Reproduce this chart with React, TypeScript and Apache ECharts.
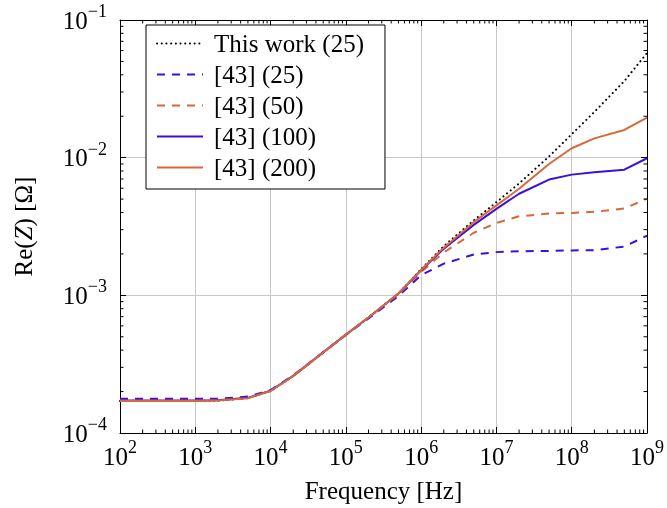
import React, { useEffect, useRef } from "react";
import * as echarts from "echarts";

const freq = [1e2, 2e2, 5e2, 1e3, 2e3, 5e3, 1e4, 2e4, 5e4, 1e5, 2e5, 5e5, 1e6, 2e6, 5e6, 1e7, 2e7, 5e7, 1e8, 2e8, 5e8, 1e9];

const thisWork25 = [1.71e-4, 1.71e-4, 1.71e-4, 1.71e-4, 1.72e-4, 1.79e-4, 2.02e-4, 2.6e-4, 3.85e-4, 5.18e-4, 6.9e-4, 1.03e-3, 1.55e-3, 2.28e-3, 3.5e-3, 4.75e-3, 6.5e-3, 1.02e-2, 1.48e-2, 2.15e-2, 3.6e-2, 5.75e-2];
const ref25 = [1.77e-4, 1.77e-4, 1.77e-4, 1.77e-4, 1.77e-4, 1.84e-4, 2.05e-4, 2.62e-4, 3.85e-4, 5.15e-4, 6.8e-4, 9.9e-4, 1.4e-3, 1.7e-3, 1.98e-3, 2.06e-3, 2.09e-3, 2.1e-3, 2.12e-3, 2.13e-3, 2.26e-3, 2.71e-3];
const ref50 = [1.73e-4, 1.73e-4, 1.73e-4, 1.73e-4, 1.74e-4, 1.8e-4, 2.03e-4, 2.6e-4, 3.85e-4, 5.17e-4, 6.9e-4, 1.02e-3, 1.48e-3, 2.05e-3, 2.85e-3, 3.35e-3, 3.75e-3, 3.93e-3, 3.97e-3, 4.04e-3, 4.27e-3, 5.04e-3];
const ref100 = [1.72e-4, 1.72e-4, 1.72e-4, 1.72e-4, 1.73e-4, 1.8e-4, 2.03e-4, 2.6e-4, 3.85e-4, 5.18e-4, 6.9e-4, 1.03e-3, 1.52e-3, 2.18e-3, 3.25e-3, 4.25e-3, 5.47e-3, 6.93e-3, 7.53e-3, 7.84e-3, 8.18e-3, 9.9e-3];
const ref200 = [1.71e-4, 1.71e-4, 1.71e-4, 1.71e-4, 1.72e-4, 1.79e-4, 2.02e-4, 2.6e-4, 3.85e-4, 5.18e-4, 6.9e-4, 1.03e-3, 1.53e-3, 2.22e-3, 3.4e-3, 4.5e-3, 5.95e-3, 9.0e-3, 1.17e-2, 1.38e-2, 1.59e-2, 1.95e-2];

const seriesNames = ["This work (25)", "[43] (25)", "[43] (50)", "[43] (100)", "[43] (200)"];

const xDecades = [2, 3, 4, 5, 6, 7, 8];
const yDecades = [-4, -3, -2];
const minorMultipliers = [2, 3, 4, 5, 6, 7, 8, 9];

const X_MIN = 1e2;
const X_MAX = 1e9;
const Y_MIN = 1e-4;
const Y_MAX = 1e-1;

const FONT = "'Liberation Serif', 'Times New Roman', serif";
const BLUE = "#3d0fd8";
const ORANGE = "#d6693a";
const DASH = [8, 7];
const DOT = [0.1, 4.6];

function supLabel(v: number) {
  const e = Math.round(Math.log10(v));
  const s = e < 0 ? "\u2212" + Math.abs(e) : String(e);
  return `{b|10}{s|${s}}`;
}

const labelRich = {
  b: { fontSize: 25, fontFamily: FONT, color: "#000", lineHeight: 36 },
  s: { fontSize: 18, fontFamily: FONT, color: "#000", lineHeight: 16, verticalAlign: "top" },
};

export default function App() {
  const ref = useRef<HTMLDivElement>(null);
  useEffect(() => {
    if (!ref.current) return;
    const chart = echarts.init(ref.current, null, { renderer: "svg" });

    const mk = (vals: number[]) => freq.map((f, i) => [f, vals[i]]);

    const minorData: number[][] = [];
    xDecades.forEach((d) => minorMultipliers.forEach((m) => minorData.push([m * Math.pow(10, d), Y_MIN, 0])));
    yDecades.forEach((d) => minorMultipliers.forEach((m) => minorData.push([X_MIN, m * Math.pow(10, d), 1])));

    const baseAxis = {
      type: "log" as const,
      logBase: 10,
      axisLine: { show: true, onZero: false, lineStyle: { color: "#000", width: 1 } },
      axisTick: { show: true, inside: true, length: 6, lineStyle: { color: "#000", width: 1 } },
    };

    chart.setOption({
      animation: false,
      grid: { left: 120, right: 19, top: 20, bottom: 72, containLabel: false },
      xAxis: [
        {
          ...baseAxis,
          min: X_MIN,
          max: X_MAX,
          position: "bottom",
          name: "Frequency [Hz]",
          nameLocation: "middle",
          nameGap: 45,
          nameTextStyle: { fontSize: 25, fontFamily: FONT, color: "#000" },
          axisLabel: { formatter: supLabel, rich: labelRich, margin: 5, color: "#000" },
          splitLine: { show: true, lineStyle: { color: "#c8c8c8", width: 1 } },
        },
        {
          ...baseAxis,
          min: X_MIN,
          max: X_MAX,
          position: "top",
          axisLabel: { show: false },
          splitLine: { show: false },
        },
      ],
      yAxis: [
        {
          ...baseAxis,
          min: Y_MIN,
          max: Y_MAX,
          position: "left",
          name: "Re({i|Z}) [\u03a9]",
          nameLocation: "middle",
          nameGap: 84,
          nameTextStyle: {
            fontSize: 25,
            fontFamily: FONT,
            color: "#000",
            rich: { i: { fontSize: 25, fontFamily: FONT, fontStyle: "italic", color: "#000" } },
          },
          axisLabel: { formatter: supLabel, rich: labelRich, margin: 13, color: "#000" },
          splitLine: { show: true, lineStyle: { color: "#c8c8c8", width: 1 } },
        },
        {
          ...baseAxis,
          min: Y_MIN,
          max: Y_MAX,
          position: "right",
          axisLabel: { show: false },
          splitLine: { show: false },
        },
      ],
      legend: {
        data: seriesNames,
        orient: "vertical",
        left: 146,
        top: 25,
        backgroundColor: "#fff",
        borderColor: "#000",
        borderWidth: 1,
        borderRadius: 0,
        padding: [6, 21, 9, 10],
        itemWidth: 46,
        itemHeight: 14,
        itemGap: 6,
        itemStyle: { opacity: 0 },
        textStyle: { fontSize: 25, fontFamily: FONT, color: "#000", lineHeight: 25, padding: [0, 0, 0, 6] },
      },
      series: [
        {
          name: seriesNames[0],
          type: "line",
          data: mk(thisWork25),
          symbol: "none",
          lineStyle: { color: "#000", width: 2, type: DOT, cap: "round" },
          itemStyle: { color: "#000", opacity: 0 },
          z: 3,
        },
        {
          name: seriesNames[1],
          type: "line",
          data: mk(ref25),
          symbol: "none",
          lineStyle: { color: BLUE, width: 2, type: DASH },
          itemStyle: { color: BLUE, opacity: 0 },
          z: 3,
        },
        {
          name: seriesNames[2],
          type: "line",
          data: mk(ref50),
          symbol: "none",
          lineStyle: { color: ORANGE, width: 2, type: DASH },
          itemStyle: { color: ORANGE, opacity: 0 },
          z: 3,
        },
        {
          name: seriesNames[3],
          type: "line",
          data: mk(ref100),
          symbol: "none",
          lineStyle: { color: BLUE, width: 2 },
          itemStyle: { color: BLUE, opacity: 0 },
          z: 3,
        },
        {
          name: seriesNames[4],
          type: "line",
          data: mk(ref200),
          symbol: "none",
          lineStyle: { color: ORANGE, width: 2 },
          itemStyle: { color: ORANGE, opacity: 0 },
          z: 3,
        },
        {
          name: "minorTicks",
          type: "custom",
          data: minorData,
          silent: true,
          clip: false,
          z: 4,
          renderItem: (params: any, api: any) => {
            const kind = api.value(2);
            const len = 3.5;
            const st = { stroke: "#000", lineWidth: 1 };
            if (kind === 0) {
              const v = api.value(0);
              const b = api.coord([v, Y_MIN]);
              const t = api.coord([v, Y_MAX]);
              return {
                type: "group",
                children: [
                  { type: "line", shape: { x1: b[0], y1: b[1], x2: b[0], y2: b[1] - len }, style: st },
                  { type: "line", shape: { x1: t[0], y1: t[1], x2: t[0], y2: t[1] + len }, style: st },
                ],
              };
            }
            const v = api.value(1);
            const l = api.coord([X_MIN, v]);
            const r = api.coord([X_MAX, v]);
            return {
              type: "group",
              children: [
                { type: "line", shape: { x1: l[0], y1: l[1], x2: l[0] + len, y2: l[1] }, style: st },
                { type: "line", shape: { x1: r[0], y1: r[1], x2: r[0] - len, y2: r[1] }, style: st },
              ],
            };
          },
        },
      ],
    });
    return () => chart.dispose();
  }, []);
  return <div ref={ref} style={{ position: "fixed", left: 0, top: 0, width: 667, height: 508 }} />;
}
